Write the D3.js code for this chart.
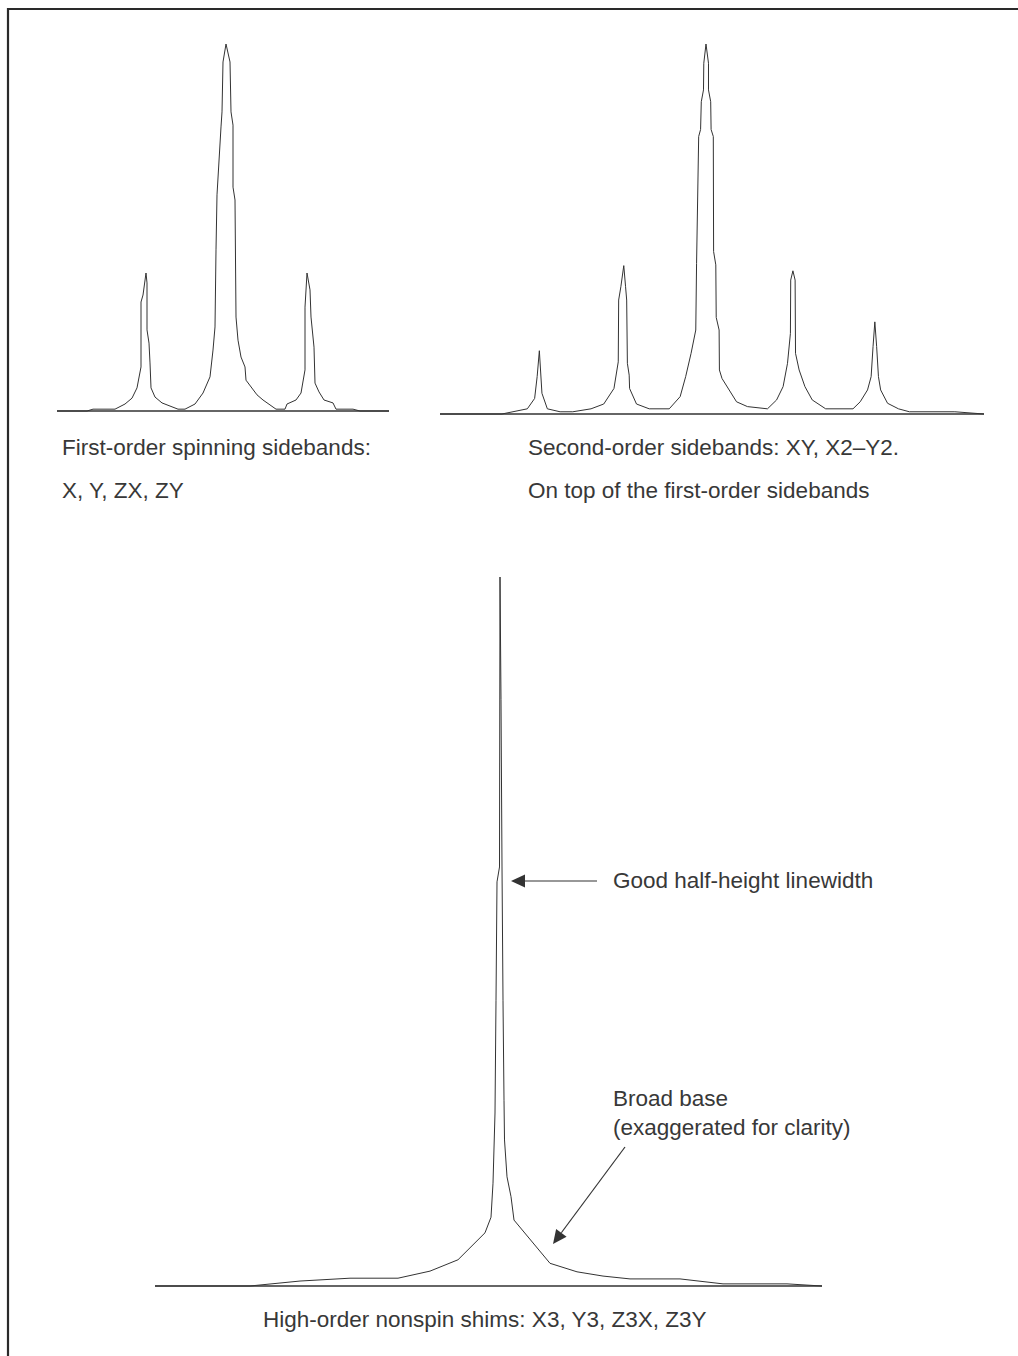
<!DOCTYPE html>
<html><head><meta charset="utf-8">
<script src="https://cdn.jsdelivr.net/npm/d3@7"></script>
<style>html,body{margin:0;padding:0;background:#fff}</style>
</head><body>
<script>
// Panel 1: first-order spinning sidebands (offset units, relative intensity %)
const p1Offset = [-169,-139,-133,-111,-101,-94,-89,-85,-85,-83,-80,-79,-79,-77,-76,-75,-71,-64,-48,-41,-31,-23,-16,-13,-11,-10,-9,-5,-4,-3,0,4,5,7,7,9,10,12,15,19,20,31,37,50,59,61,70,75,79,79,81,84,85,88,89,93,98,107,110,127,134,163];
const p1Intensity = [0,0,0.5,0.5,1.9,3.5,6.3,12.0,29.7,31.6,37.6,34.9,22.1,18.5,13.1,6.3,3.8,2.2,0.5,0.5,1.9,4.9,9.3,16.6,22.9,43.9,58.9,77.4,81.5,95.1,100,95.1,81.5,77.9,61.0,57.5,25.6,19.3,14.7,12.0,8.4,4.4,3.0,0.5,0.5,1.9,3.0,4.9,11.2,28.3,37.6,33.0,25.6,17.4,7.6,5.2,3.0,2.2,0.5,0.5,0,0];

// Panel 2: second-order sidebands
const p2Offset = [-265.6,-203.8,-178.4,-171.1,-168.6,-166.4,-163.8,-158.4,-145.7,-133.0,-114.8,-102.1,-91.9,-87.6,-87.2,-85.0,-82.1,-80.3,-79.2,-78.5,-76.7,-76.3,-69.4,-56.7,-36.7,-25.8,-20.3,-14.9,-10.2,-9.4,-7.3,-5.4,-4.7,-2.5,-2.2,0,2.5,2.5,4.7,5.1,7.3,7.6,9.8,10.2,13.1,13.4,16.0,30.5,41.4,61.4,70.5,77.0,81.4,84.3,84.6,86.8,89.0,89.4,93.0,98.8,106.1,119.5,146.8,154.0,161.3,164.9,166.8,168.6,170.4,172.2,174.4,181.3,192.2,203.1,248.5,277.6];
const p2Intensity = [0,0,1.4,4.2,10.1,17.1,5.6,1.4,0.6,0.6,1.4,2.7,6.9,14.1,30.8,34.4,40.1,34.4,30.8,13.7,10.5,6.9,2.7,1.4,1.4,4.7,10.1,16.4,22.7,40.7,75.0,76.9,84.4,87.6,94.8,100,94.8,87.6,84.4,76.9,75.0,43.9,40.3,26.1,22.7,11.9,9.6,3.3,2.0,1.4,3.8,7.4,13.7,21.8,36.2,38.7,36.2,16.4,11.9,7.4,3.8,1.4,1.4,3.3,6.5,10.1,18.2,24.9,18.2,10.1,6.5,2.9,1.4,0.6,0.6,0];

// Panel 3: high-order nonspin shims
const p3Offset = [-345,-250,-200,-150,-102,-70,-42,-15,-9,-7,-5,-4,-3,-0.5,0,1,2,3,4,4.5,7,11,14,50,77,103,130,180,223,287,322];
const p3Intensity = [0,0,0.7,1.1,1.1,2.1,3.7,7.5,9.7,14.5,24.4,40.3,57.0,59.1,100,82.7,59.1,40.3,26.2,20.6,15.4,12.6,9.3,3.2,2.0,1.4,1.0,1.0,0.3,0.3,0];

const captionLines = [
  "First-order spinning sidebands:",
  "X, Y, ZX, ZY",
  "Second-order sidebands: XY, X2\u2013Y2.",
  "On top of the first-order sidebands",
  "High-order nonspin shims: X3, Y3, Z3X, Z3Y"
];
const annotationLines = ["Good half-height linewidth", "Broad base", "(exaggerated for clarity)"];

const W = 1018, H = 1356;
const ink = "#333";
const svg = d3.select("body").append("svg").attr("width", W).attr("height", H)
  .style("font-family", "'Liberation Sans', Arial, Helvetica, sans-serif");
svg.append("rect").attr("width", W).attr("height", H).attr("fill", "#fff");

// frame (top + left)
svg.append("path").attr("d", `M8,${H} L8,9 L${W},9`).attr("fill", "none")
  .attr("stroke", "#2a2a2a").attr("stroke-width", 2.2);

function panel(offsets, intens, xDom, xRange, yRange) {
  const x = d3.scaleLinear().domain(xDom).range(xRange);
  const y = d3.scaleLinear().domain([0, 100]).range(yRange);
  const g = svg.append("g");
  g.append("line").attr("x1", x(xDom[0])).attr("x2", x(xDom[1]))
    .attr("y1", y(0)).attr("y2", y(0)).attr("stroke", ink).attr("stroke-width", 1.3);
  const line = d3.line().x(d => x(d[0])).y(d => y(d[1]));
  g.append("path").datum(offsets.map((o, i) => [o, intens[i]]))
    .attr("d", line).attr("fill", "none").attr("stroke", ink).attr("stroke-width", 1)
    .attr("stroke-linejoin", "round");
  return {x, y};
}

panel(p1Offset, p1Intensity, [-169, 163], [57, 389], [411, 44]);
panel(p2Offset, p2Intensity, [-265.6, 277.6], [440, 984], [414, 44]);
panel(p3Offset, p3Intensity, [-345, 322], [155, 822], [1286, 577]);

const fs = 22.5;
function txt(s, xx, yy) {
  svg.append("text").attr("x", xx).attr("y", yy).attr("font-size", fs)
    .attr("fill", "#383838").text(s);
}
txt(captionLines[0], 62, 455);
txt(captionLines[1], 62, 498);
txt(captionLines[2], 528, 455);
txt(captionLines[3], 528, 498);
txt(captionLines[4], 263, 1327);
txt(annotationLines[0], 613, 888);
txt(annotationLines[1], 613, 1106);
txt(annotationLines[2], 613, 1135);

// arrows
function arrow(x1, y1, x2, y2) {
  const ang = Math.atan2(y2 - y1, x2 - x1);
  const L = 14, Wd = 6.5;
  const bx = x2 - L * Math.cos(ang), by = y2 - L * Math.sin(ang);
  svg.append("line").attr("x1", x1).attr("y1", y1).attr("x2", bx).attr("y2", by)
    .attr("stroke", ink).attr("stroke-width", 1.2);
  const px = -Math.sin(ang) * Wd, py = Math.cos(ang) * Wd;
  svg.append("path").attr("d", `M${x2},${y2} L${bx + px},${by + py} L${bx - px},${by - py} Z`)
    .attr("fill", ink);
}
arrow(597, 881, 511, 881);
arrow(625, 1147, 553, 1244);
</script>
</body></html>
